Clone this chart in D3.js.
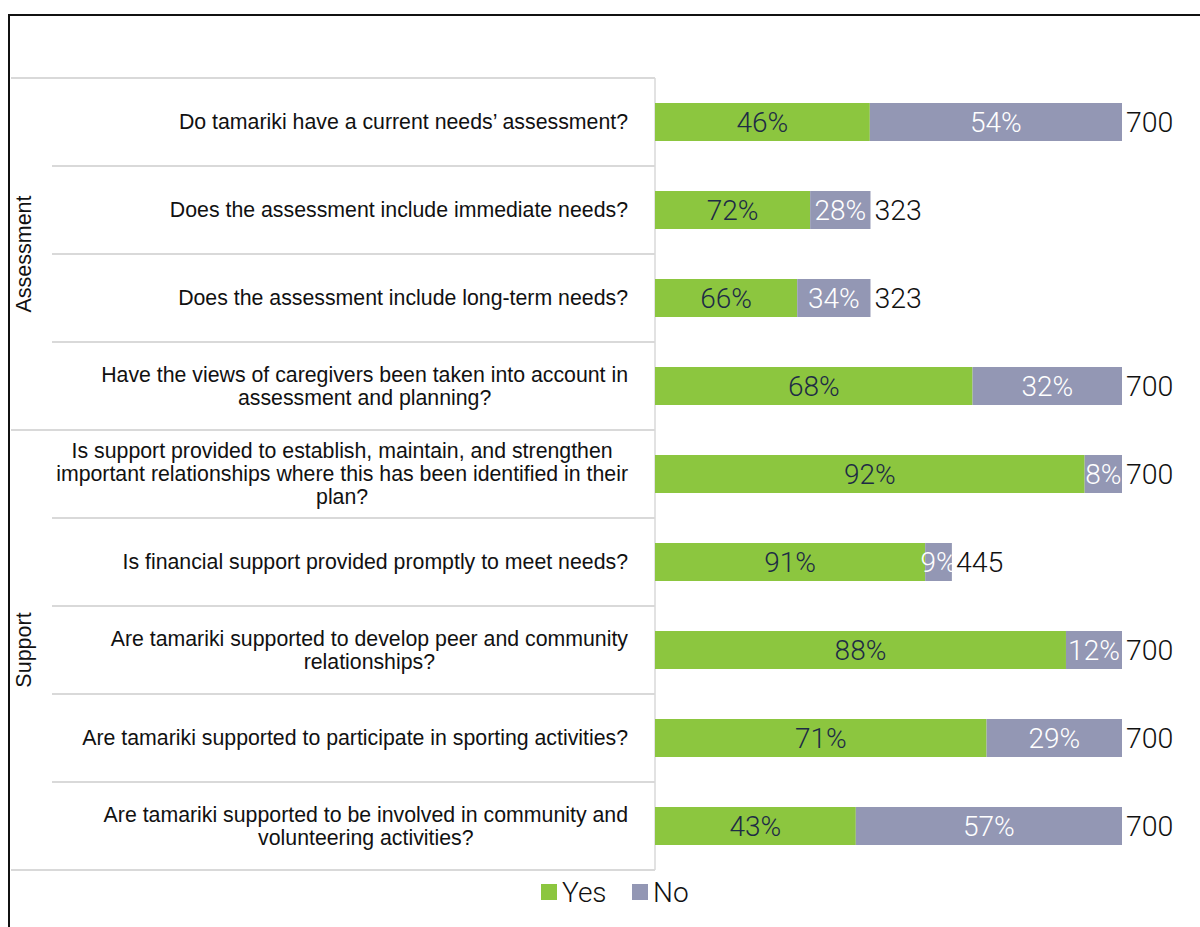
<!DOCTYPE html>
<html><head><meta charset="utf-8">
<script src="https://cdn.jsdelivr.net/npm/d3@7"></script>
<style>body{margin:0;background:#fff}svg{display:block}</style>
</head><body>
<svg id="c" width="1200" height="927"></svg>
<script>
const questions = [
  "Do tamariki have a current needs’ assessment?",
  "Does the assessment include immediate needs?",
  "Does the assessment include long-term needs?",
  "Have the views of caregivers been taken into account in|assessment and planning?",
  "Is support provided to establish, maintain, and strengthen|important relationships where this has been identified in their|plan?",
  "Is financial support provided promptly to meet needs?",
  "Are tamariki supported to develop peer and community|relationships?",
  "Are tamariki supported to participate in sporting activities?",
  "Are tamariki supported to be involved in community and|volunteering activities?"
];
const groups = ["Assessment","Assessment","Assessment","Assessment","Support","Support","Support","Support","Support"];
const yesPct = [46, 72, 66, 68, 92, 91, 88, 71, 43];
const noPct  = [54, 28, 34, 32, 8, 9, 12, 29, 57];
const totals = [700, 323, 323, 700, 700, 445, 700, 700, 700];
const seriesNames = ["Yes","No"];
const colors = ["#8cc63f","#9397b4"];

const svg = d3.select("#c");
const x0 = 655;
const x = d3.scaleLinear().domain([0,700]).range([x0,1122]);
const y = d3.scaleBand().domain(d3.range(questions.length)).range([78,870]).paddingInner(0);
const barH = 38;

// outer frame
svg.append("rect").attr("x",9).attr("y",15).attr("width",1200).attr("height",1000)
  .attr("fill","none").attr("stroke","#111").attr("stroke-width",2);

// label panel lines
const gridCol = "#d9d9d9";
svg.append("line").attr("x1",655).attr("x2",655).attr("y1",78).attr("y2",870).attr("stroke",gridCol).attr("stroke-width",1.5);
const boundaries = d3.range(questions.length+1).map(i => i < questions.length ? y(i) : y.range()[1]);
boundaries.forEach((b,i) => {
  const isGroupEdge = i===0 || i===questions.length || groups[i]!==groups[i-1];
  svg.append("line").attr("x1", isGroupEdge ? 11 : 52).attr("x2",655)
    .attr("y1",b).attr("y2",b).attr("stroke",gridCol).attr("stroke-width",2);
});

// group labels
const groupNames = Array.from(new Set(groups));
groupNames.forEach(g => {
  const idx = groups.map((v,i)=>v===g?i:-1).filter(i=>i>=0);
  const top = y(idx[0]), bot = y(idx[idx.length-1]) + y.bandwidth();
  const cy = (top+bot)/2;
  svg.append("text").attr("transform",`translate(31,${cy}) rotate(-90)`)
    .attr("text-anchor","middle").attr("font-family","Liberation Sans, Arial, sans-serif")
    .attr("font-size",21.5).attr("fill","#111").text(g);
});

// category labels
const lab = svg.append("g").attr("font-family","Liberation Sans, Arial, sans-serif").attr("font-size",21.3).attr("fill","#111");
questions.forEach((q,i) => {
  const lines = q.split("|");
  const lh = 23;
  const cy = y(i) + y.bandwidth()/2;
  const t = lab.append("text");
  const spans = lines.map((ln,k) => t.append("tspan").attr("y", cy - (lines.length-1)*lh/2 + k*lh).attr("dy","0.35em").text(ln));
  const widths = spans.map(s => s.node().getComputedTextLength());
  const maxW = d3.max(widths);
  const right = 628;
  if (lines.length === 1) {
    spans[0].attr("x", right).attr("text-anchor","end");
  } else {
    spans.forEach(s => s.attr("x", right - maxW/2).attr("text-anchor","middle"));
  }
});

// bars
const rows = questions.map((q,i) => {
  const yesN = totals[i]*yesPct[i]/100;
  return [
    {i, k:0, start:0, end:yesN, pct:yesPct[i]},
    {i, k:1, start:yesN, end:totals[i], pct:noPct[i]}
  ];
}).flat();

const bars = svg.append("g");
bars.selectAll("rect").data(rows).join("rect")
  .attr("x", d => x(d.start)).attr("width", d => x(d.end)-x(d.start))
  .attr("y", d => y(d.i) + y.bandwidth()/2 - barH/2).attr("height", barH)
  .attr("fill", d => colors[d.k]);

bars.selectAll("text.pct").data(rows).join("text").attr("class","pct")
  .attr("x", d => (x(d.start)+x(d.end))/2)
  .attr("y", d => y(d.i) + y.bandwidth()/2).attr("dy","0.36em")
  .attr("text-anchor","middle")
  .attr("font-family","Roboto, sans-serif").attr("font-weight",300).attr("font-size",28)
  .attr("fill", d => d.k===0 ? "#1d2b45" : "#ffffff")
  .text(d => d.pct + "%");

svg.append("g").selectAll("text").data(totals).join("text")
  .attr("x", d => x(d) + 4).attr("y", (d,i) => y(i) + y.bandwidth()/2).attr("dy","0.36em")
  .attr("font-family","Roboto, sans-serif").attr("font-weight",300).attr("font-size",28.5)
  .attr("fill","#111").text(d => d);

// legend
const leg = svg.append("g");
const legX = [541, 632];
seriesNames.forEach((s,k) => {
  leg.append("rect").attr("x",legX[k]).attr("y",884).attr("width",16).attr("height",16).attr("fill",colors[k]);
  leg.append("text").attr("x",legX[k]+21).attr("y",892).attr("dy","0.36em")
    .attr("font-family","Roboto, sans-serif").attr("font-weight",300).attr("font-size",28)
    .attr("fill","#111").text(s);
});
</script>
</body></html>
